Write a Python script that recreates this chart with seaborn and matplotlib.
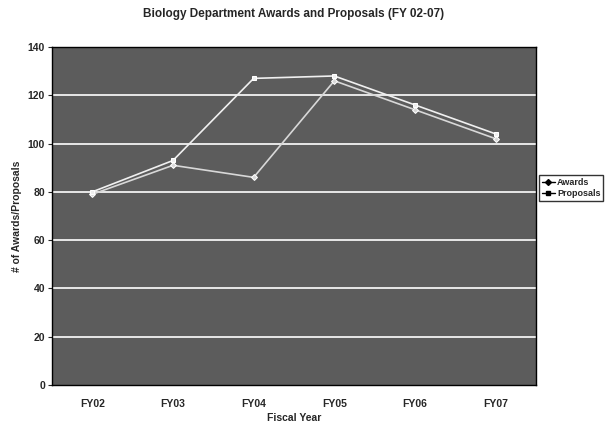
import matplotlib
matplotlib.use("Agg")
import matplotlib.pyplot as plt
from matplotlib.lines import Line2D
import seaborn as sns
import pandas as pd

years = ["FY02", "FY03", "FY04", "FY05", "FY06", "FY07"]
awards = [79, 91, 86, 126, 114, 102]
proposals = [80, 93, 127, 128, 116, 104]
yticks = [0, 20, 40, 60, 80, 100, 120, 140]

df = pd.DataFrame({
    "Fiscal Year": years * 2,
    "value": awards + proposals,
    "series": ["Awards"] * len(years) + ["Proposals"] * len(years),
})

sns.set_style("white")
plt.rcParams["font.family"] = ["Liberation Sans", "DejaVu Sans"]

fig = plt.figure(figsize=(6.09, 4.25), dpi=100)
ax = fig.add_axes([52 / 609, 1 - 385 / 425, (536 - 52) / 609, (385 - 47) / 425])
ax.set_facecolor("#5c5c5c")

sns.lineplot(data=df, x="Fiscal Year", y="value", hue="series", style="series",
             markers={"Awards": "D", "Proposals": "s"}, dashes=False,
             palette={"Awards": "#d8d8d8", "Proposals": "#f0f0f0"},
             markersize=3, linewidth=1.2, sort=False, ax=ax, legend=False)

ax.set_xlim(-0.5, len(years) - 0.5)
ax.set_ylim(0, 140)
ax.set_yticks(yticks)
ax.set_yticklabels([str(v) for v in yticks], fontsize=7.5, fontweight="bold")
ax.set_xticks(range(len(years)))
ax.set_xticklabels(years, fontsize=7.5, fontweight="bold")
ax.tick_params(axis="x", length=0, pad=10)
ax.tick_params(axis="y", length=3, direction="out", left=True, pad=2)
for y in yticks[1:]:
    ax.axhline(y, color="white", linewidth=1.2, zorder=1)
for s in ax.spines.values():
    s.set_color("black")
    s.set_linewidth(1)

ax.set_xlabel("Fiscal Year", fontsize=7.5, fontweight="bold", labelpad=3)
ax.set_ylabel("# of Awards/Proposals", fontsize=7.5, fontweight="bold", labelpad=4)
fig.suptitle("Biology Department Awards and Proposals (FY 02-07)",
             fontsize=8.5, fontweight="bold", x=(52 + 536) / 2 / 609, y=0.98)

handles = [Line2D([], [], color="black", marker="D", markersize=3, linewidth=1),
           Line2D([], [], color="black", marker="s", markersize=3, linewidth=1)]
leg = fig.legend(handles, ["Awards", "Proposals"], loc="center left",
                 bbox_to_anchor=(539 / 609, 1 - 188 / 425), fontsize=6.5,
                 frameon=True, fancybox=False, edgecolor="black",
                 handlelength=1.5, handletextpad=0.2, borderpad=0.3,
                 labelspacing=0.2, borderaxespad=0)
for t in leg.get_texts():
    t.set_fontweight("bold")

fig.savefig("out.png", dpi=100, facecolor="white")
